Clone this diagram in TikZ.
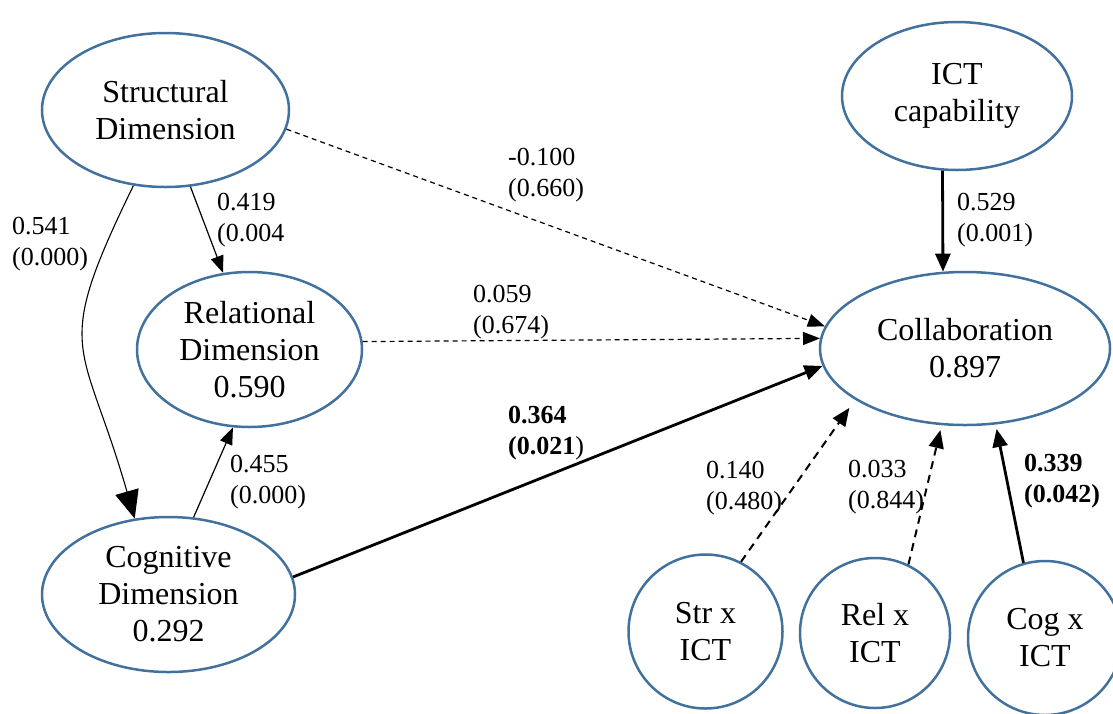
\documentclass[tikz,border=0pt]{standalone}
\usepackage{fontspec}
\setmainfont{Liberation Serif}
\usetikzlibrary{arrows.meta,
                shapes.geometric}
\definecolor{ovalblue}{RGB}{65,113,156}

\begin{document}
\begin{tikzpicture}[x=1pt, y=-1pt,
        latent/.style={ellipse, draw=ovalblue, line width=2.5pt, inner sep=0pt, align=center, font=\fontsize{32}{37}\selectfont},
        inter/.style={circle, draw=ovalblue, line width=2.5pt, inner sep=0pt, minimum size=154pt, align=center, font=\fontsize{32}{37}\selectfont},
        coef/.style={anchor=west, align=left, inner sep=0pt, font=\fontsize{26}{31}\selectfont},
        effect/.style={-{Triangle[length=17pt, width=13pt]}, line width=1.2pt},
        nseffect/.style={effect, dash pattern=on 5pt off 4pt},
        strong/.style={-{Triangle[length=18pt, width=15pt]}, line width=2.8pt},
        nsstrong/.style={strong, line width=2pt, dash pattern=on 8pt off 6pt}]
    \useasboundingbox (0,0) rectangle (1113,713);

    % constructs
    \node[latent, minimum width=247pt, minimum height=154pt] (str) at (165.5,110) {Structural\\Dimension};
    \node[latent, minimum width=225pt, minimum height=155pt] (rel) at (249.5,349.5) {Relational\\Dimension\\0.590};
    \node[latent, minimum width=253pt, minimum height=155pt] (cog) at (168.5,594.5) {Cognitive\\Dimension\\0.292};
    \node[latent, minimum width=230pt, minimum height=148pt] (ict) at (957,96) {ICT\\capability};
    \node[latent, minimum width=290pt, minimum height=153pt] (coll) at (965,348.5) {Collaboration\\0.897};

    % interaction terms
    \node[inter] (strx) at (705.5,631.5) {Str x\\ICT};
    \node[inter, minimum size=150pt] (relx) at (875,633) {Rel x\\ICT};
    \node[inter] (cogx) at (1045,638) {Cog x\\ICT};

    % path coefficients
    \node[coef] (c541) at (12,244) {0.541\\(0.000)};
    \node[coef] (c419) at (217,220) {0.419\\(0.004};
    \node[coef] (c455) at (230,482) {0.455\\(0.000)};
    \node[coef] (c100) at (508,175) {-0.100\\(0.660)};
    \node[coef] (c059) at (473,312) {0.059\\(0.674)};
    \node[coef] (c364) at (508,433) {\textbf{0.364}\\\textbf{(0.021})};
    \node[coef] (c529) at (957,220) {0.529\\(0.001)};
    \node[coef] (c140) at (706,488) {0.140\\(0.480)};
    \node[coef] (c033) at (848,487) {0.033\\(0.844)};
    \node[coef] (c339) at (1024,481) {\textbf{0.339}\\\textbf{(0.042)}};

    % paths
    \draw[-{Triangle[length=28pt, width=24pt]}, line width=1.1pt] (str.-113.6) to[out=-116, in=106, looseness=1.45] (cog.114.2);
    \draw[effect] (str.-72) -- (rel.109.4);
    \draw[effect] (cog.72.9) -- (rel.-102.1);
    \draw[nseffect] (str.-9.5) -- (coll.171.6);
    \draw[nseffect] (rel.4.9) -- (coll.176.6);
    \draw[strong] (cog.8.6) -- (coll.-173.4);
    \draw[strong] (ict.-101.5) -- (coll.106.9);
    \draw[nsstrong, shorten >=10pt] (strx.63.3) -- (coll.-155.6);
    \draw[nsstrong, shorten >=5pt] (relx.64.1) -- (coll.-107.9);
    \draw[strong, shorten >=4.5pt] (cogx.106.4) -- (coll.-68.9);
\end{tikzpicture}
\end{document}
